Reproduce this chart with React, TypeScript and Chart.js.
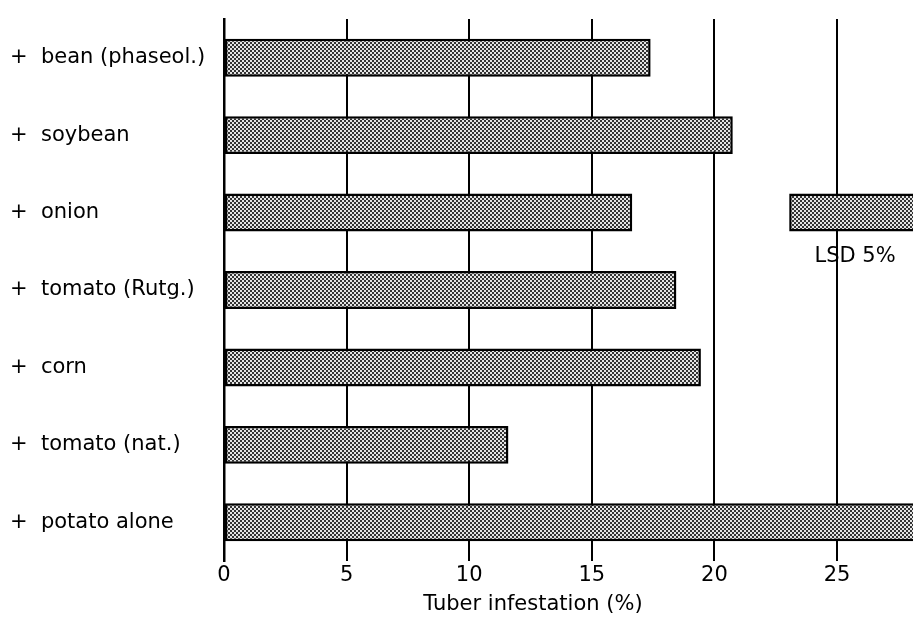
import { useEffect, useRef } from 'react';
import { Chart, registerables } from 'chart.js';

Chart.register(...registerables);

const categories = [
  '+  bean (phaseol.)',
  '+  soybean',
  '+  onion',
  '+  tomato (Rutg.)',
  '+  corn',
  '+  tomato (nat.)',
  '+  potato alone',
];
const infestation = [17.4, 20.75, 16.65, 18.45, 19.45, 11.6, 29];
const lsdCategory = '+  onion';
const lsdRange: [number, number] = [23.05, 29];
const lsdLabel = 'LSD 5%';
const xTickValues = [0, 5, 10, 15, 20, 25];
const xTitle = 'Tuber infestation (%)';
const X_MIN = 0;
const X_MAX = 28.1;

const FONT = '"DejaVu Sans", sans-serif';

export default function App() {
  const ref = useRef<HTMLCanvasElement>(null);

  useEffect(() => {
    document.body.style.margin = '0';
    const canvas = ref.current!;
    const pc = document.createElement('canvas');
    pc.width = 4;
    pc.height = 4;
    const p = pc.getContext('2d')!;
    p.fillStyle = '#e4e4e4';
    p.fillRect(0, 0, 4, 4);
    p.fillStyle = '#333333';
    p.fillRect(0, 0, 2, 2);
    p.fillRect(2, 2, 2, 2);
    const pattern = canvas.getContext('2d')!.createPattern(pc, 'repeat')!;

    const lsdData = categories.map((c) => (c === lsdCategory ? lsdRange : null));

    const annotate = {
      id: 'annotate',
      afterDraw(chart: any) {
        const { ctx, chartArea } = chart;
        const x = chart.scales.x;
        const y = chart.scales.y;
        ctx.save();
        ctx.fillStyle = '#000';
        ctx.font = `21px ${FONT}`;
        ctx.textAlign = 'center';
        ctx.textBaseline = 'middle';
        const idx = categories.indexOf(lsdCategory);
        const cy = y.getPixelForValue(idx);
        const lx = (x.getPixelForValue(lsdRange[0]) + chartArea.right) / 2 + 4;
        ctx.fillText(lsdLabel, lx, cy + 44);
        ctx.fillText(xTitle, x.getPixelForValue(12.6), chart.height - 18);
        ctx.restore();
      },
    };

    const chart = new Chart(canvas, {
      type: 'bar',
      data: {
        labels: categories,
        datasets: [
          {
            data: infestation,
            backgroundColor: pattern,
            borderColor: '#000',
            borderWidth: 2.5,
            borderSkipped: false,
            barPercentage: 0.49,
            categoryPercentage: 1,
            grouped: false,
          } as any,
          {
            data: lsdData as any,
            backgroundColor: pattern,
            borderColor: '#000',
            borderWidth: 2.5,
            borderSkipped: false,
            barPercentage: 0.49,
            categoryPercentage: 1,
            grouped: false,
          } as any,
        ],
      },
      options: {
        indexAxis: 'y',
        animation: false,
        responsive: true,
        maintainAspectRatio: false,
        layout: { padding: { top: 19, left: 10, right: 0, bottom: 0 } },
        plugins: {
          legend: { display: false },
          tooltip: { enabled: false },
        },
        scales: {
          x: {
            type: 'linear',
            min: X_MIN,
            max: X_MAX,
            afterBuildTicks: (scale: any) => {
              scale.ticks = xTickValues.map((v) => ({ value: v }));
            },
            afterFit: (scale: any) => {
              scale.height = 62;
            },
            grid: {
              color: '#000',
              lineWidth: 2,
              drawTicks: false,
            },
            border: { display: false },
            ticks: {
              color: '#000',
              font: { family: FONT, size: 21 },
              padding: 2,
              maxRotation: 0,
            },
          },
          y: {
            type: 'category',
            offset: true,
            afterFit: (scale: any) => {
              scale.width = 214;
            },
            grid: { display: false },
            border: { display: true, color: '#000', width: 2.5 },
            ticks: {
              color: '#000',
              crossAlign: 'far',
              font: { family: FONT, size: 21 },
            },
          },
        },
      },
      plugins: [annotate],
    });

    return () => chart.destroy();
  }, []);

  return (
    <div style={{ width: 913, height: 623, position: 'relative' }}>
      <canvas ref={ref} />
    </div>
  );
}
